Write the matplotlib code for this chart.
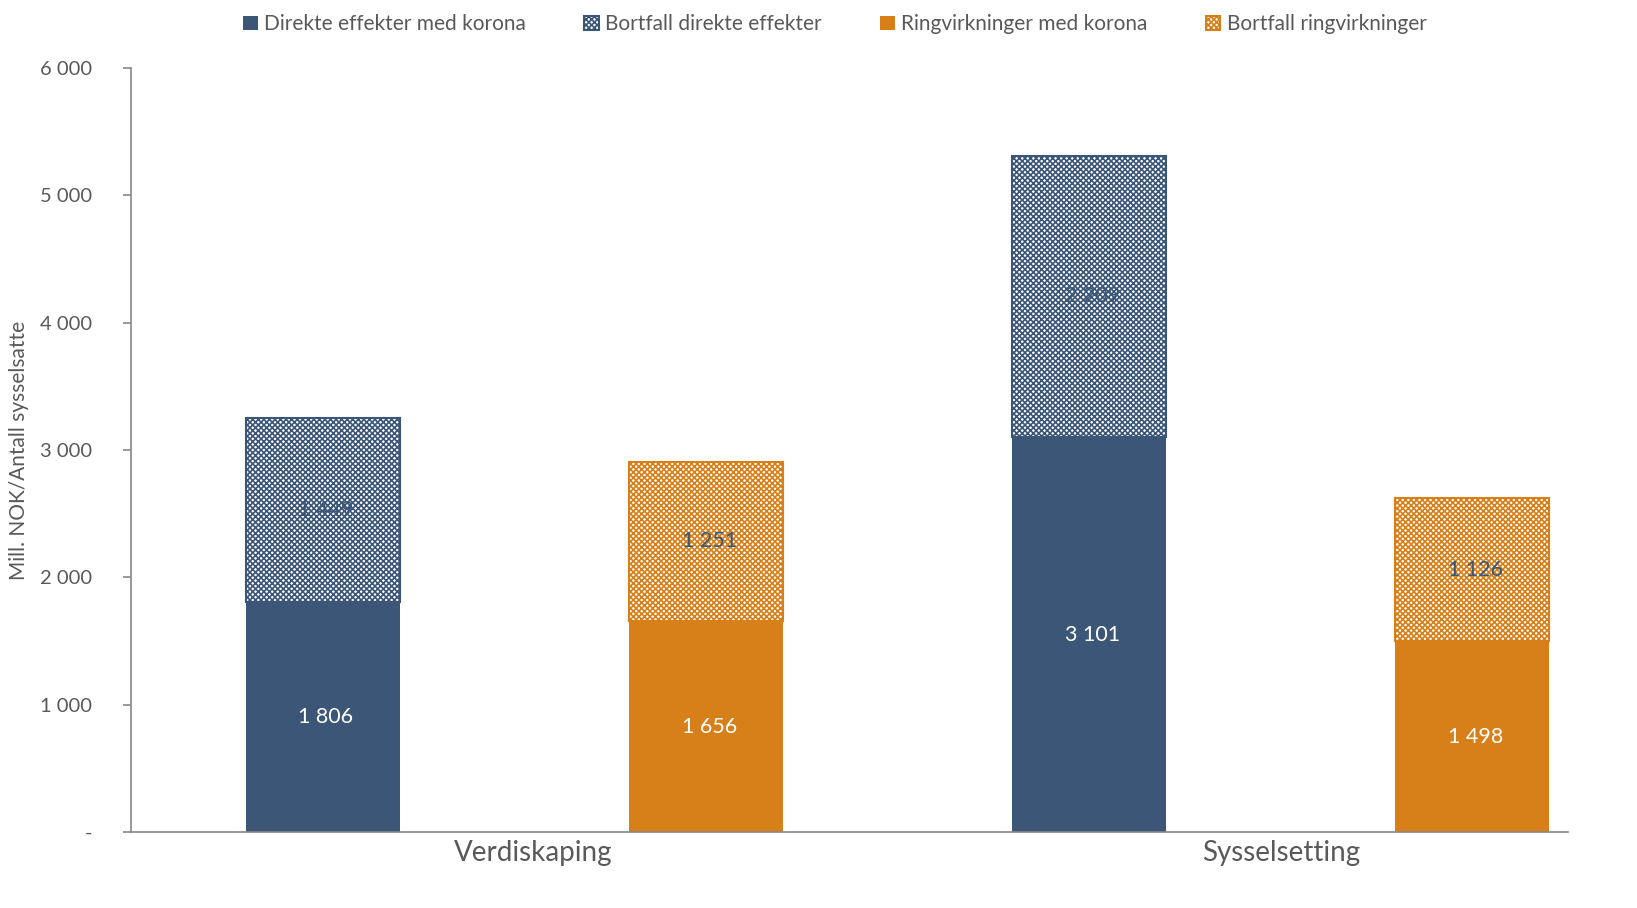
import matplotlib.pyplot as plt
import matplotlib as mpl
import numpy as np

plt.rcParams['font.family'] = ['Lato', 'DejaVu Sans']
mpl.rcParams['hatch.linewidth'] = 1.2

kategorier = ['Verdiskaping', 'Sysselsetting']
direkte = [1806, 3101]
bortfall_direkte = [1449, 2209]
ring = [1656, 1498]
bortfall_ring = [1251, 1126]

blue = '#3B5676'
orange = '#D77F18'
grey_text = '#595959'

fig = plt.figure(figsize=(16.37, 9.08), dpi=100)
ax = fig.add_axes([131/1637, 1-832/908, (1568-131)/1637, (832-68)/908])

xd = np.array([0, 2])
xr = np.array([1, 3])
w = 0.402

ax.bar(xd, direkte, w, color=blue, label='Direkte effekter med korona')
ax.bar(xd, bortfall_direkte, w, bottom=direkte, facecolor='white', edgecolor=blue,
       hatch='xxxxxx', linewidth=1.5, label='Bortfall direkte effekter')
ax.bar(xr, ring, w, color=orange, label='Ringvirkninger med korona')
ax.bar(xr, bortfall_ring, w, bottom=ring, facecolor='white', edgecolor=orange,
       hatch='xxxxxx', linewidth=1.5, label='Bortfall ringvirkninger')

def fmt(v):
    return f'{v:,}'.replace(',', ' ')

for x, a, b in zip(xd, direkte, bortfall_direkte):
    ax.text(x + 0.008, a / 2, fmt(a), ha='center', va='center', color='white', fontsize=15.5)
    ax.text(x + 0.008, a + b / 2, fmt(b), ha='center', va='center', color=blue, fontsize=15.5)
for x, a, b in zip(xr, ring, bortfall_ring):
    ax.text(x + 0.008, a / 2, fmt(a), ha='center', va='center', color='white', fontsize=15.5)
    ax.text(x + 0.008, a + b / 2, fmt(b), ha='center', va='center', color=blue, fontsize=15.5)

ax.set_xlim(-0.501, 3.25)
ax.set_ylim(0, 6000)
yt = np.arange(0, 6001, 1000)
ax.set_yticks(yt)
ax.set_yticklabels(['-'] + [fmt(v) for v in yt[1:]], fontsize=14.5, color=grey_text)
ax.set_xticks([0.55, 2.5])
ax.set_xticklabels(kategorier, fontsize=20, color=grey_text)
ax.tick_params(axis='x', length=0, pad=6)
ax.tick_params(axis='y', length=6, width=1.2, color='#888888', pad=22)
ax.set_ylabel('Mill. NOK/Antall sysselsatte', fontsize=15, color=grey_text, labelpad=8)

for s in ['top', 'right']:
    ax.spines[s].set_visible(False)
ax.spines['left'].set_color('#888888')
ax.spines['bottom'].set_color('#888888')
ax.spines['left'].set_linewidth(1.2)
ax.spines['bottom'].set_linewidth(1.2)

leg = fig.legend(loc='upper center', bbox_to_anchor=(0.51, 1.005), ncol=4, frameon=False,
                 fontsize=15, handlelength=0.7, handleheight=0.7, handletextpad=0.3,
                 columnspacing=2.8, labelcolor=grey_text)

fig.savefig('out.png', dpi=100)
